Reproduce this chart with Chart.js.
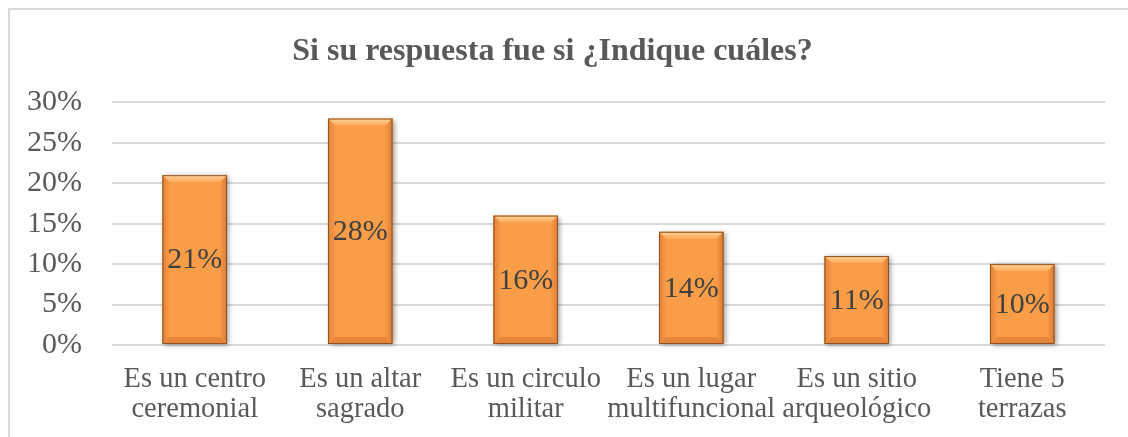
<!DOCTYPE html>
<html>
<head>
<meta charset="utf-8">
<script src="https://cdn.jsdelivr.net/npm/chart.js@4"></script>
<style>
  html, body { margin: 0; padding: 0; background: #fff; }
  #wrap { position: relative; width: 1128px; height: 437px; overflow: hidden; }
  #frame {
    position: absolute; left: 8px; top: 8px; width: 1200px; height: 500px;
    border-left: 2px solid #D9D9D9; border-top: 2px solid #D9D9D9;
  }
  canvas { position: absolute; left: 0; top: 0; }
</style>
</head>
<body>
<div id="wrap">
  <div id="frame"></div>
  <canvas id="chart" width="1128" height="437"></canvas>
</div>
<script>
const titleText = "Si su respuesta fue si ¿Indique cuáles?";
const categories = [
  ["Es un centro", "ceremonial"],
  ["Es un altar", "sagrado"],
  ["Es un circulo", "militar"],
  ["Es un lugar", "multifuncional"],
  ["Es un sitio", "arqueológico"],
  ["Tiene 5", "terrazas"]
];
const values = [21, 28, 16, 14, 11, 10];
const yTicks = [0, 5, 10, 15, 20, 25, 30];

const serif = "'Liberation Serif', 'Times New Roman', serif";

// drop shadow behind bars, drawn from the bar elements the library laid out
const barShadow = {
  id: "barShadow",
  beforeDatasetsDraw(chart) {
    const ctx = chart.ctx;
    const meta = chart.getDatasetMeta(0);
    ctx.save();
    ctx.shadowColor = "rgba(0,0,0,0.4)";
    ctx.shadowBlur = 5;
    ctx.shadowOffsetX = 2;
    ctx.shadowOffsetY = 1;
    ctx.fillStyle = "#F99D48";
    meta.data.forEach(bar => {
      const p = bar.getProps(["x", "y", "base", "width"], true);
      ctx.fillRect(p.x - p.width / 2, p.y, p.width, p.base - p.y);
    });
    ctx.restore();
  }
};

// bevel + value labels
const barBevel = {
  id: "barBevel",
  afterDatasetsDraw(chart) {
    const ctx = chart.ctx;
    const meta = chart.getDatasetMeta(0);
    const b = 7;
    ctx.save();
    meta.data.forEach((bar, i) => {
      const p = bar.getProps(["x", "y", "base", "width"], true);
      const l = p.x - p.width / 2, r = p.x + p.width / 2, t = p.y, bt = p.base;
      // top light band
      let g = ctx.createLinearGradient(0, t, 0, t + b);
      g.addColorStop(0, "#FFD394");
      g.addColorStop(1, "#FBAA5C");
      ctx.fillStyle = g;
      ctx.beginPath();
      ctx.moveTo(l, t); ctx.lineTo(r, t); ctx.lineTo(r - b, t + b); ctx.lineTo(l + b, t + b);
      ctx.closePath(); ctx.fill();
      // bottom darker band
      ctx.fillStyle = "#E5843A";
      ctx.beginPath();
      ctx.moveTo(l, bt); ctx.lineTo(r, bt); ctx.lineTo(r - b, bt - b); ctx.lineTo(l + b, bt - b);
      ctx.closePath(); ctx.fill();
      // side bands
      g = ctx.createLinearGradient(l, 0, l + b, 0);
      g.addColorStop(0, "#E0823A");
      g.addColorStop(1, "#F79A47");
      ctx.fillStyle = g;
      ctx.beginPath();
      ctx.moveTo(l, t); ctx.lineTo(l + b, t + b); ctx.lineTo(l + b, bt - b); ctx.lineTo(l, bt);
      ctx.closePath(); ctx.fill();
      g = ctx.createLinearGradient(r, 0, r - b, 0);
      g.addColorStop(0, "#D97B34");
      g.addColorStop(1, "#F79A47");
      ctx.fillStyle = g;
      ctx.beginPath();
      ctx.moveTo(r, t); ctx.lineTo(r - b, t + b); ctx.lineTo(r - b, bt - b); ctx.lineTo(r, bt);
      ctx.closePath(); ctx.fill();
      // edge
      ctx.strokeStyle = "#8E5222";
      ctx.lineWidth = 1;
      ctx.strokeRect(l + 0.5, t + 0.5, p.width - 1, bt - t - 1);
      // value label
      ctx.fillStyle = "#404040";
      ctx.font = "30px " + serif;
      ctx.textAlign = "center";
      ctx.textBaseline = "middle";
      ctx.fillText(values[i] + "%", p.x, (t + bt) / 2 + 1);
    });
    ctx.restore();
  }
};

new Chart(document.getElementById("chart"), {
  type: "bar",
  data: {
    labels: categories,
    datasets: [{
      data: values,
      backgroundColor: "#F99D48",
      borderWidth: 0,
      categoryPercentage: 1,
      barPercentage: 0.39
    }]
  },
  options: {
    responsive: false,
    animation: false,
    layout: { padding: { top: 10, right: 23, left: 0, bottom: 0 } },
    plugins: {
      legend: { display: false },
      tooltip: { enabled: false },
      title: {
        display: true,
        text: titleText,
        color: "#595959",
        font: { family: serif, size: 32, weight: "bold", lineHeight: 1.2 },
        padding: { top: 23, bottom: 31 }
      }
    },
    scales: {
      x: {
        grid: { display: false, drawTicks: false },
        border: { display: false },
        ticks: {
          color: "#595959",
          font: { family: serif, size: 28.5, lineHeight: 1.05 },
          padding: 20,
          maxRotation: 0,
          autoSkip: false
        },
        afterFit(scale) { scale.height = 92; }
      },
      y: {
        min: 0,
        max: 30,
        afterBuildTicks(scale) { scale.ticks = yTicks.map(v => ({ value: v })); },
        grid: { color: "#D9D9D9", lineWidth: 2, drawTicks: false },
        border: { display: false },
        ticks: {
          color: "#595959",
          font: { family: serif, size: 30 },
          padding: 30,
          callback: v => v + "%"
        },
        afterFit(scale) { scale.width = 112; }
      }
    }
  },
  plugins: [barShadow, barBevel]
});
</script>
</body>
</html>
